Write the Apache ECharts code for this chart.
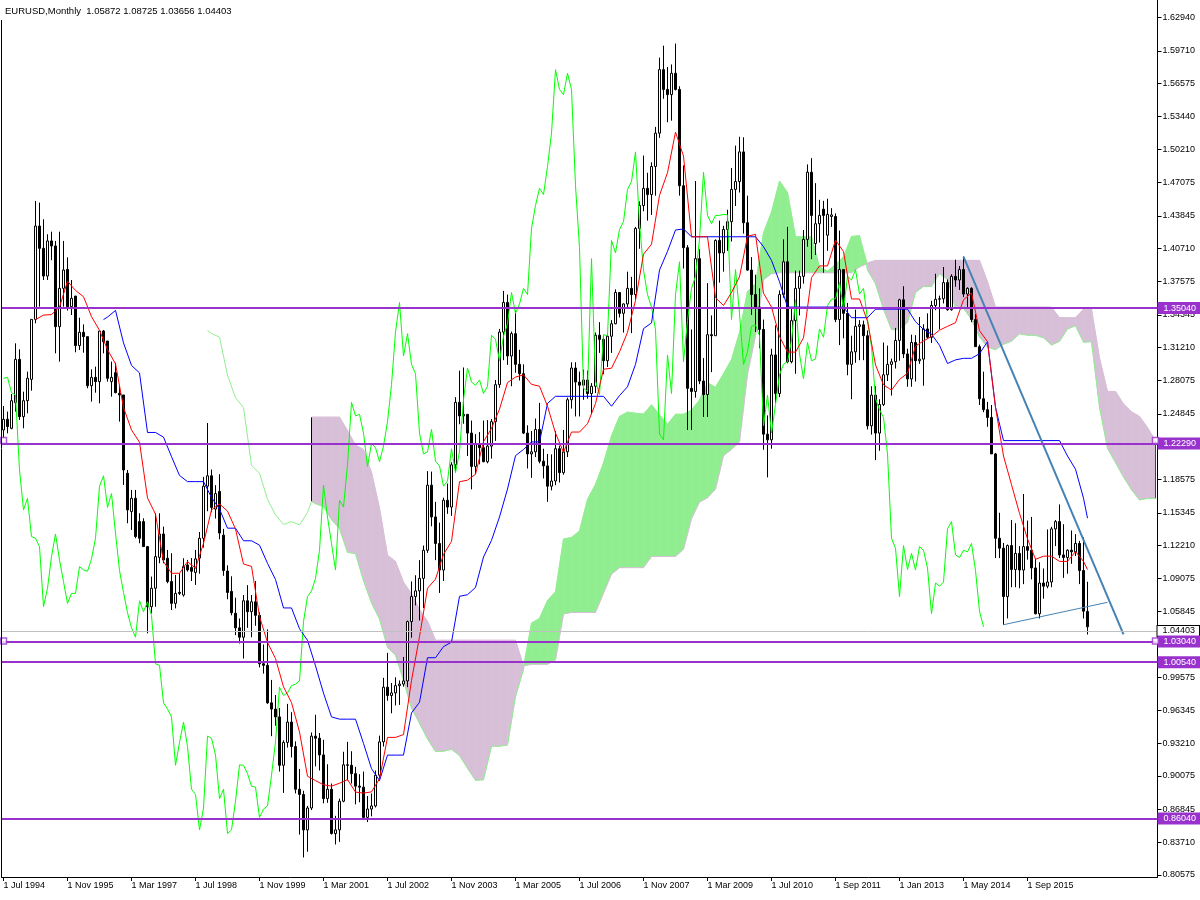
<!DOCTYPE html>
<html><head><meta charset="utf-8">
<script src="https://cdn.jsdelivr.net/npm/echarts@6/dist/echarts.min.js"></script>
<style>html,body{margin:0;padding:0;background:#fff}#c{width:1200px;height:900px}</style>
</head><body><div id="c"></div>
<script>
const symbolName = 'EURUSD';
const periodName = 'Monthly';
const tickLabels = ['1 Jul 1994','1 Nov 1995','1 Mar 1997','1 Jul 1998','1 Nov 1999','1 Mar 2001','1 Jul 2002','1 Nov 2003','1 Mar 2005','1 Jul 2006','1 Nov 2007','1 Mar 2009','1 Jul 2010','1 Sep 2011','1 Jan 2013','1 May 2014','1 Sep 2015'];
const priceTicks = [1.62940,1.59710,1.56575,1.53440,1.50210,1.47075,1.43845,1.40710,1.37575,1.34345,1.31210,1.28075,1.24845,1.21710,1.18575,1.15345,1.12210,1.09075,1.05845,0.99575,0.96345,0.93210,0.90075,0.86845,0.83710,0.80575];
const totalSlots = 289;

const opens = [1.2330,1.2432,1.2346,1.2592,1.3008,1.2458,1.2611,1.2816,1.3392,1.4288,
1.4074,1.3808,1.4145,1.4097,1.3322,1.3690,1.3872,1.3514,1.3616,1.3140,
1.3268,1.3226,1.2755,1.2835,1.2794,1.3280,1.3184,1.2794,1.2880,1.2682,
1.2666,1.1914,1.1546,1.1674,1.1450,1.1450,1.1210,1.0633,1.0810,1.1107,
1.1331,1.1098,1.0874,1.0665,1.0771,1.0745,1.1034,1.1009,1.0962,1.1100,
1.1290,1.1790,1.1890,1.1570,1.1740,1.1320,1.0975,1.0780,1.0570,1.0430,
1.0340,1.0690,1.0585,1.0680,1.0550,1.0085,1.0070,0.9710,0.9650,0.9575,
0.9110,0.9330,0.9525,0.9290,0.8880,0.8830,0.8490,0.8700,0.9390,0.9370,
0.9210,0.8790,0.8880,0.8455,0.8490,0.8765,0.9115,0.9110,0.9030,0.8910,
0.8900,0.8610,0.8690,0.8720,0.9015,0.9335,0.9860,0.9780,0.9805,0.9875,
0.9890,0.9920,1.0490,1.0730,1.0785,1.0905,1.1175,1.1800,1.1495,1.1240,
1.0985,1.1655,1.1590,1.1995,1.2595,1.2465,1.2480,1.2300,1.1980,1.2200,
1.2160,1.2025,1.2175,1.2410,1.2765,1.3270,1.3555,1.3040,1.3255,1.2960,
1.2870,1.2300,1.2100,1.2120,1.2335,1.2030,1.1985,1.1790,1.1840,1.2150,
1.1920,1.2120,1.2620,1.2925,1.2790,1.2760,1.2810,1.2680,1.2750,1.3240,
1.3200,1.2995,1.3230,1.3350,1.3650,1.3450,1.3540,1.3690,1.3630,1.4265,
1.4485,1.4650,1.4590,1.4860,1.5180,1.5790,1.5600,1.5550,1.5755,1.5600,
1.4675,1.4080,1.2730,1.2700,1.3975,1.2800,1.2670,1.3245,1.3235,1.4150,
1.4030,1.4255,1.4330,1.4640,1.4715,1.5000,1.4320,1.3865,1.3630,1.3510,
1.3295,1.2290,1.2235,1.3050,1.2680,1.3630,1.3945,1.2985,1.3380,1.3690,
1.3805,1.4160,1.4805,1.4120,1.4310,1.4450,1.4200,1.4380,1.4380,1.3390,
1.3870,1.3450,1.2960,1.3080,1.3325,1.3340,1.3235,1.2370,1.2665,1.2300,
1.2575,1.2860,1.2960,1.2985,1.3190,1.3580,1.3060,1.2820,1.3170,1.2995,
1.3010,1.3300,1.3220,1.3525,1.3585,1.3590,1.3745,1.3485,1.3805,1.3770,
1.3870,1.3635,1.3690,1.3390,1.3130,1.2630,1.2525,1.2450,1.2100,1.1290,
1.1195,1.0730,1.1220,1.0990,1.1145,1.0985,1.1210,1.1175,1.1005,1.0565,
1.0860,1.0830,1.0870,1.1380,1.1450,1.1130,1.1105,1.1175,1.1160,1.1240,
1.0980,1.05872];
const highs = [1.2560,1.2506,1.2675,1.3162,1.3104,1.2698,1.2890,1.3392,1.4529,1.4513,
1.4353,1.4209,1.4234,1.4145,1.4234,1.4145,1.3988,1.3770,1.3616,1.3408,
1.3344,1.3226,1.2912,1.2938,1.3280,1.3290,1.3184,1.2986,1.2976,1.2762,
1.2666,1.1946,1.1754,1.1754,1.1530,1.1482,1.1210,1.0922,1.1530,1.1530,
1.1402,1.1178,1.1146,1.0938,1.0954,1.1098,1.1082,1.1100,1.1178,1.1350,
1.1880,1.2397,1.1950,1.1800,1.1905,1.1380,1.1030,1.0925,1.0720,1.0520,
1.0745,1.0840,1.0745,1.0880,1.0580,1.0270,1.0415,0.9930,0.9785,0.9660,
0.9350,0.9700,0.9620,0.9340,0.9075,0.8865,0.8720,0.9425,0.9595,0.9420,
0.9355,0.9120,0.8935,0.8625,0.8790,0.9240,0.9335,0.9245,0.9095,0.9025,
0.9050,0.8815,0.8840,0.9060,0.9395,0.9950,1.0190,0.9900,0.9955,0.9925,
1.0150,1.0500,1.0875,1.0935,1.1080,1.1220,1.1935,1.1930,1.1640,1.1440,
1.1680,1.1815,1.2020,1.2645,1.2900,1.2930,1.2480,1.2420,1.2290,1.2310,
1.2420,1.2425,1.2435,1.2810,1.3300,1.3665,1.3630,1.3275,1.3475,1.3100,
1.2960,1.2375,1.2320,1.2440,1.2590,1.2150,1.2100,1.2095,1.2320,1.2180,
1.2330,1.2640,1.2980,1.2980,1.2890,1.2910,1.2900,1.2780,1.3265,1.3365,
1.3235,1.3255,1.3385,1.3680,1.3655,1.3545,1.3850,1.3800,1.4280,1.4525,
1.4965,1.4800,1.4900,1.5240,1.5905,1.6020,1.5815,1.5840,1.6040,1.5630,
1.4870,1.4105,1.3295,1.4720,1.4065,1.3020,1.3740,1.3430,1.4160,1.4340,
1.4290,1.4445,1.4845,1.5060,1.5145,1.5140,1.4580,1.3990,1.3820,1.3690,
1.3390,1.2470,1.3110,1.3335,1.3670,1.4160,1.4280,1.3500,1.3860,1.3860,
1.4250,1.4880,1.4940,1.4700,1.4540,1.4530,1.4550,1.4460,1.4410,1.4245,
1.3870,1.3550,1.3235,1.3485,1.3385,1.3380,1.3285,1.2750,1.2750,1.2625,
1.3170,1.3140,1.3015,1.3310,1.3590,1.3710,1.3110,1.3245,1.3240,1.3415,
1.3345,1.3450,1.3570,1.3830,1.3620,1.3895,1.3775,1.3825,1.3965,1.3905,
1.3995,1.3700,1.3700,1.3445,1.3150,1.2890,1.2600,1.2570,1.2110,1.1535,
1.1245,1.1230,1.1465,1.1435,1.1215,1.1715,1.1460,1.1495,1.1095,1.1060,
1.1000,1.1375,1.1400,1.1465,1.1615,1.1425,1.1185,1.1365,1.1330,1.1265,
1.1300,1.08725];
const lows = [1.2250,1.2298,1.2336,1.2506,1.2426,1.2346,1.2490,1.2707,1.3354,1.3514,
1.3770,1.3770,1.3960,1.3066,1.2986,1.3514,1.3476,1.3434,1.3076,1.3098,
1.3072,1.2730,1.2602,1.2688,1.2586,1.3066,1.2794,1.2650,1.2682,1.2410,
1.1802,1.1434,1.1370,1.1290,1.1242,1.1210,1.0377,1.0569,1.0633,1.1050,
1.1050,1.0858,1.0601,1.0617,1.0745,1.0729,1.0970,1.0880,1.0842,1.0950,
1.1200,1.1550,1.1540,1.1480,1.1280,1.0930,1.0705,1.0550,1.0360,1.0280,
1.0135,1.0430,1.0340,1.0450,1.0050,0.9990,0.9700,0.9390,0.9490,0.9050,
0.8845,0.9280,0.9185,0.8840,0.8445,0.8225,0.8280,0.8680,0.9100,0.9060,
0.8745,0.8750,0.8445,0.8350,0.8375,0.8755,0.8965,0.8935,0.8735,0.8755,
0.8595,0.8565,0.8620,0.8705,0.8975,0.9290,0.9730,0.9610,0.9685,0.9690,
0.9865,0.9860,1.0335,1.0645,1.0500,1.0620,1.1150,1.1405,1.1080,1.0765,
1.0880,1.1525,1.1505,1.1925,1.2385,1.2390,1.2080,1.1760,1.1905,1.2000,
1.2020,1.2010,1.2055,1.2225,1.2735,1.3000,1.2955,1.2750,1.2880,1.2805,
1.2290,1.1960,1.1870,1.2070,1.2010,1.1865,1.1640,1.1750,1.1800,1.1825,
1.1900,1.2070,1.2535,1.2460,1.2460,1.2620,1.2630,1.2480,1.2685,1.3070,
1.2865,1.2935,1.3070,1.3345,1.3410,1.3265,1.3505,1.3260,1.3580,1.4070,
1.4430,1.4340,1.4395,1.4580,1.5135,1.5510,1.5285,1.5300,1.5590,1.4580,
1.3880,1.2330,1.2330,1.2640,1.2770,1.2455,1.2455,1.2885,1.3235,1.3745,
1.3850,1.4050,1.4140,1.4480,1.4610,1.4215,1.3860,1.3435,1.3270,1.3115,
1.2140,1.1875,1.2150,1.2590,1.2645,1.3600,1.2970,1.2970,1.2870,1.3430,
1.3735,1.4090,1.3970,1.4010,1.4130,1.3840,1.4050,1.4280,1.3365,1.3145,
1.3210,1.2855,1.2625,1.2975,1.3000,1.3000,1.2335,1.2285,1.2040,1.2130,
1.2560,1.2800,1.2660,1.2920,1.2995,1.3020,1.2745,1.2745,1.2795,1.2965,
1.2755,1.3205,1.3165,1.3480,1.3295,1.3545,1.3475,1.3475,1.3705,1.3675,
1.3605,1.3500,1.3365,1.3130,1.2570,1.2500,1.2360,1.2100,1.1100,1.1100,
1.0460,1.0520,1.0820,1.0820,1.0810,1.0850,1.1085,1.0895,1.0560,1.0520,
1.0710,1.0810,1.0820,1.1215,1.1100,1.0910,1.0950,1.1045,1.1120,1.0850,
1.0520,1.03656];
const closes = [1.2432,1.2362,1.2611,1.3008,1.2458,1.2611,1.2826,1.3392,1.4288,1.4074,
1.3808,1.4145,1.4097,1.3322,1.3690,1.3866,1.3514,1.3594,1.3140,1.3268,
1.3226,1.2755,1.2835,1.2794,1.3280,1.3178,1.2826,1.2835,1.2688,1.2666,
1.1946,1.1562,1.1674,1.1306,1.1290,1.1210,1.0633,1.0810,1.1114,1.1331,
1.1082,1.0874,1.0665,1.0761,1.0761,1.1018,1.0986,1.0973,1.1092,1.1290,
1.1790,1.1890,1.1586,1.1719,1.1340,1.0980,1.0770,1.0575,1.0430,1.0340,
1.0690,1.0585,1.0680,1.0550,1.0085,1.0070,0.9710,0.9650,0.9575,0.9110,
0.9330,0.9525,0.9290,0.8880,0.8830,0.8490,0.8700,0.9390,0.9370,0.9210,
0.8790,0.8880,0.8455,0.8490,0.8765,0.9115,0.9110,0.9030,0.8910,0.8900,
0.8610,0.8690,0.8720,0.9015,0.9335,0.9860,0.9780,0.9805,0.9875,0.9890,
0.9920,1.0490,1.0730,1.0785,1.0905,1.1175,1.1800,1.1495,1.1240,1.0985,
1.1655,1.1590,1.1995,1.2595,1.2465,1.2480,1.2300,1.1980,1.2200,1.2160,
1.2025,1.2175,1.2410,1.2765,1.3270,1.3555,1.3040,1.3255,1.2960,1.2870,
1.2300,1.2100,1.2120,1.2335,1.2030,1.1985,1.1790,1.1840,1.2150,1.1920,
1.2120,1.2620,1.2925,1.2790,1.2760,1.2810,1.2680,1.2750,1.3240,1.3200,
1.2995,1.3230,1.3350,1.3650,1.3450,1.3540,1.3690,1.3630,1.4265,1.4485,
1.4650,1.4590,1.4860,1.5180,1.5790,1.5600,1.5550,1.5755,1.5600,1.4675,
1.4080,1.2730,1.2700,1.3975,1.2800,1.2670,1.3245,1.3235,1.4150,1.4030,
1.4255,1.4330,1.4640,1.4715,1.5000,1.4320,1.3865,1.3630,1.3510,1.3295,
1.2290,1.2235,1.3050,1.2680,1.3630,1.3945,1.2985,1.3380,1.3690,1.3805,
1.4160,1.4805,1.4390,1.4310,1.4390,1.4390,1.4400,1.4395,1.3390,1.3870,
1.3450,1.2960,1.3080,1.3325,1.3340,1.3235,1.2370,1.2665,1.2300,1.2575,
1.2860,1.2960,1.2985,1.3190,1.3580,1.3060,1.2820,1.3170,1.2995,1.3010,
1.3300,1.3220,1.3525,1.3585,1.3590,1.3745,1.3485,1.3805,1.3770,1.3870,
1.3635,1.3690,1.3390,1.3130,1.2630,1.2525,1.2450,1.2100,1.1290,1.1195,
1.0730,1.1220,1.0990,1.1145,1.0985,1.1210,1.1175,1.1005,1.0565,1.0860,
1.0830,1.0870,1.1380,1.1450,1.1130,1.1105,1.1175,1.1160,1.1240,1.0980,
1.0590,1.04403];

// Ichimoku lines: [bar, price]
const tenkan = [[8,1.3390],[10,1.3433],[12,1.3438],[14,1.3510],[16,1.3758],[18,1.3670],[20,1.3610],[22,1.3418],[24,1.3287],[26,1.3101],[28,1.2965],[30,1.2546],[32,1.2330],[34,1.2213],[36,1.1677],[38,1.1522],[40,1.1066],[42,1.0954],[44,1.0954],[46,1.1066],[48,1.1002],[50,1.1241],[52,1.1563],[54,1.1620],[56,1.1551],[58,1.1379],[60,1.1043],[62,1.1020],[64,1.0540],[66,1.0290],[68,1.0135],[70,0.9863],[72,0.9713],[74,0.9430],[76,0.9005],[78,0.8963],[80,0.8923],[82,0.8910],[84,0.8938],[86,0.8973],[88,0.8853],[90,0.8843],[92,0.8855],[94,0.8980],[96,0.9378],[98,0.9378],[100,0.9405],[102,0.9925],[104,1.0345],[106,1.0810],[108,1.0898],[110,1.1135],[112,1.1260],[114,1.1833],[116,1.1848],[118,1.1905],[120,1.2218],[122,1.2345],[124,1.2530],[126,1.2785],[128,1.2838],[130,1.2860],[132,1.2768],[134,1.2750],[136,1.2558],[138,1.2300],[140,1.2115],[142,1.2310],[144,1.2310],[146,1.2390],[148,1.2583],[150,1.2913],[152,1.2923],[154,1.3080],[156,1.3268],[158,1.3573],[160,1.4018],[162,1.4113],[164,1.4583],[166,1.4800],[168,1.5190],[170,1.4960],[172,1.4185],[174,1.4185],[176,1.4185],[178,1.3600],[180,1.3525],[182,1.3650],[184,1.3800],[186,1.4190],[188,1.4208],[190,1.3643],[192,1.3510],[194,1.3228],[196,1.3078],[198,1.3078],[200,1.3215],[202,1.3793],[204,1.3905],[206,1.3905],[208,1.4153],[210,1.4043],[212,1.3588],[214,1.3588],[216,1.3373],[218,1.2955],[220,1.2763],[222,1.2713],[224,1.2815],[226,1.2875],[228,1.3135],[230,1.3185],[232,1.3228],[234,1.3288],[236,1.3325],[238,1.3360],[240,1.3580],[242,1.3645],[244,1.3283],[246,1.3178],[248,1.2548],[250,1.2080],[252,1.1805],[254,1.1530],[256,1.1285],[258,1.1088],[260,1.1118],[262,1.1118],[264,1.1068],[266,1.1068],[268,1.1163],[270,1.1068],[271,1.0990]];
const kijun = [[25,1.3390],[26,1.3414],[28,1.3478],[30,1.3166],[32,1.2950],[34,1.2878],[36,1.2306],[38,1.2306],[40,1.2261],[42,1.2074],[44,1.1893],[46,1.1834],[48,1.1834],[50,1.1834],[52,1.1682],[54,1.1570],[56,1.1387],[58,1.1387],[60,1.1266],[62,1.1266],[64,1.1224],[66,1.1049],[68,1.0894],[70,1.0621],[72,1.0621],[74,1.0421],[76,1.0311],[78,1.0065],[80,0.9803],[82,0.9575],[84,0.9553],[86,0.9553],[88,0.9553],[90,0.9320],[92,0.9078],[94,0.8963],[96,0.9208],[98,0.9208],[100,0.9208],[102,0.9613],[104,0.9715],[106,1.0143],[108,1.0143],[110,1.0250],[112,1.0293],[114,1.0733],[116,1.0748],[118,1.0818],[120,1.1110],[122,1.1270],[124,1.1495],[126,1.1763],[128,1.2083],[130,1.2143],[132,1.2215],[134,1.2215],[136,1.2585],[138,1.2653],[150,1.2653],[152,1.2558],[154,1.2660],[156,1.2745],[158,1.2960],[160,1.3303],[162,1.3358],[164,1.3865],[166,1.4045],[168,1.4250],[170,1.4260],[172,1.4185],[188,1.4185],[190,1.4090],[192,1.3958],[194,1.3753],[196,1.3510],[208,1.3510],[210,1.3508],[212,1.3408],[216,1.3408],[218,1.3490],[226,1.3490],[228,1.3370],[230,1.3295],[232,1.3250],[234,1.3143],[236,1.2968],[238,1.3003],[240,1.3018],[242,1.3018],[244,1.3063],[246,1.3178],[248,1.2548],[250,1.2228],[264,1.2228],[266,1.2080],[268,1.1953],[270,1.1675],[271,1.1483]];
const spanA = [[51,1.3284],[52,1.3257],[54,1.3221],[56,1.2856],[58,1.2640],[60,1.2545],[62,1.1991],[64,1.1914],[66,1.1664],[68,1.1514],[70,1.1423],[72,1.1450],[74,1.1418],[76,1.1537],[77,1.1644],[78,1.1622],[80,1.1595],[82,1.1469],[84,1.1383],[86,1.1155],[88,1.1143],[90,1.0882],[92,1.0669],[94,1.0514],[96,1.0242],[98,1.0167],[100,0.9926],[102,0.9658],[104,0.9514],[106,0.9363],[108,0.9243],[110,0.9245],[112,0.9263],[114,0.9203],[116,0.9081],[118,0.8966],[120,0.8971],[122,0.9293],[124,0.9293],[126,0.9306],[128,0.9769],[130,1.0030],[132,1.0476],[134,1.0520],[136,1.0693],[138,1.0776],[140,1.1283],[142,1.1298],[144,1.1361],[146,1.1664],[148,1.1808],[150,1.2013],[152,1.2274],[154,1.2460],[156,1.2501],[158,1.2491],[160,1.2483],[162,1.2571],[164,1.2476],[166,1.2384],[168,1.2481],[170,1.2481],[172,1.2521],[174,1.2618],[176,1.2783],[178,1.2740],[180,1.2870],[182,1.3006],[184,1.3266],[186,1.3660],[188,1.3735],[190,1.4224],[192,1.4423],[194,1.4720],[196,1.4610],[198,1.4185],[200,1.4185],[202,1.4185],[204,1.3893],[206,1.3855],[208,1.3918],[210,1.3993],[212,1.4188],[214,1.4196],[216,1.3866],[218,1.3734],[220,1.3490],[222,1.3294],[224,1.3294],[226,1.3363],[228,1.3651],[230,1.3708],[232,1.3708],[234,1.3831],[236,1.3775],[238,1.3498],[240,1.3498],[242,1.3390],[244,1.3223],[246,1.3126],[248,1.3101],[250,1.3153],[252,1.3183],[254,1.3253],[256,1.3240],[258,1.3239],[260,1.3215],[262,1.3146],[264,1.3181],[266,1.3299],[268,1.3331],[270,1.3173],[272,1.3178],[274,1.2548],[276,1.2154],[278,1.2016],[280,1.1879],[282,1.1756],[284,1.1658],[286,1.1673],[288,1.1673]];
const spanB = [[77,1.2453],[78,1.2453],[80,1.2453],[82,1.2453],[84,1.2453],[86,1.2324],[88,1.2185],[90,1.2142],[92,1.1923],[94,1.1580],[96,1.1127],[98,1.1068],[100,1.0868],[102,1.0758],[104,1.0606],[106,1.0494],[108,1.0311],[110,1.0311],[112,1.0311],[114,1.0311],[116,1.0311],[118,1.0311],[120,1.0311],[122,1.0311],[124,1.0311],[126,1.0311],[128,1.0311],[130,1.0065],[132,1.0080],[134,1.0080],[136,1.0080],[138,1.0123],[140,1.0563],[142,1.0578],[144,1.0578],[146,1.0578],[148,1.0578],[150,1.0763],[152,1.0945],[154,1.1008],[156,1.1008],[158,1.1008],[160,1.1008],[162,1.1115],[164,1.1115],[166,1.1115],[168,1.1115],[170,1.1185],[172,1.1478],[174,1.1638],[176,1.1678],[178,1.1763],[180,1.2083],[182,1.2143],[184,1.2215],[186,1.2865],[188,1.3235],[190,1.3773],[192,1.3830],[194,1.3840],[196,1.3840],[198,1.3840],[200,1.3840],[202,1.3840],[204,1.3840],[206,1.3840],[208,1.3840],[210,1.3840],[212,1.3840],[214,1.3895],[216,1.3933],[218,1.3958],[220,1.3958],[222,1.3958],[224,1.3958],[226,1.3958],[228,1.3958],[230,1.3958],[232,1.3958],[234,1.3958],[236,1.3958],[238,1.3958],[240,1.3958],[242,1.3958],[244,1.3958],[246,1.3753],[248,1.3510],[250,1.3510],[252,1.3510],[254,1.3510],[256,1.3510],[258,1.3510],[260,1.3510],[262,1.3508],[264,1.3408],[266,1.3408],[268,1.3408],[270,1.3490],[272,1.3490],[274,1.3020],[276,1.2700],[278,1.2700],[280,1.2580],[282,1.2505],[284,1.2460],[286,1.2353],[288,1.2228]];

const levels = [1.35040, 1.22290, 1.03040, 1.00540, 0.86040];
const handleLevels = [1.22290, 1.03040];
const trendUpper = [[240,1.3995],[280,1.0368]];
const trendLower = [[250,1.0460],[276,1.0675]];
const chikouShift = 26;

const C_TENKAN = '#ff0000', C_KIJUN = '#0000ff', C_CHIKOU = '#00ff00';
const C_UP = '#90ee90', C_DOWN = '#d8bfd8', C_LEVEL = '#9932cc', C_TREND = '#4682b4';
const FONT = 'Liberation Sans, Arial, sans-serif';

const cats = Array.from({length: totalSlots}, (_, i) => String(i));
const candles = opens.map((o, i) => [o, closes[i], lows[i], highs[i]]);
const chikou = closes.slice(chikouShift).map((c, k) => [k, c]);
const aAt = new Map(spanA.map(p => [p[0], p[1]]));
const cloud = spanB.map(p => [p[0], aAt.get(p[0]), p[1]]);
const last = closes.length - 1;

function renderCloud(params, api) {
  const k = params.dataIndex;
  if (k >= cloud.length - 1) return null;
  const [j0, a0, b0] = cloud[k], [j1, a1, b1] = cloud[k + 1];
  const d0 = a0 - b0, d1 = a1 - b1;
  const kids = [];
  const poly = (pts, up) => ({type: 'polygon', shape: {points: pts.map(p => api.coord(p))},
    style: {fill: up ? C_UP : C_DOWN, stroke: up ? C_UP : C_DOWN, lineWidth: 0.6}});
  if (d0 * d1 < 0) {
    const t = d0 / (d0 - d1);
    const jx = j0 + t * (j1 - j0), vx = a0 + t * (a1 - a0);
    kids.push(poly([[j0, a0], [jx, vx], [j0, b0]], d0 > 0));
    kids.push(poly([[jx, vx], [j1, a1], [j1, b1]], d1 > 0));
  } else {
    kids.push(poly([[j0, a0], [j1, a1], [j1, b1], [j0, b0]], (d0 + d1) > 0));
  }
  const edge = (j, a, b, col) => {
    const p1 = api.coord([j, a]), p2 = api.coord([j, b]);
    return {type: 'line', shape: {x1: Math.floor(p1[0]) + 0.5, y1: p1[1], x2: Math.floor(p2[0]) + 0.5, y2: p2[1]}, style: {stroke: col, lineWidth: 1}, z2: 5};
  };
  if (k === 0) kids.push(edge(j0, a0, b0, '#000'));
  if (k === cloud.length - 2) kids.push(edge(j1, a1, b1, '#404040'));
  return {type: 'group', children: kids};
}

const levelLines = levels.map(v => ({yAxis: v, lineStyle: {color: C_LEVEL, width: 2, type: 'solid'},
  label: {show: true, position: 'end', distance: 0, formatter: () => v.toFixed(5), color: '#fff',
    backgroundColor: C_LEVEL, padding: [2, 5, 1, 6], fontSize: 9, fontFamily: FONT}}));
const bidLine = {yAxis: closes[last], lineStyle: {color: '#c0c0c0', width: 1, type: 'solid'},
  label: {show: true, position: 'end', distance: 0, formatter: () => closes[last].toFixed(5), color: '#000',
    backgroundColor: '#fff', borderColor: '#000', borderWidth: 1, padding: [1, 4, 0, 5], fontSize: 9, fontFamily: FONT}};

const handles = [];
handleLevels.forEach(v => { handles.push([0, v]); handles.push([totalSlots - 1, v]); });

const chart = echarts.init(document.getElementById('c'), null, {renderer: 'canvas'});
chart.setOption({
  animation: false,
  backgroundColor: '#fff',
  graphic: [
    {type: 'line', z: 90, shape: {x1: 1.5, y1: 20, x2: 1.5, y2: 877}, style: {stroke: '#000', lineWidth: 1}},
    {type: 'text', left: 5, top: 6, z: 100,
      style: {text: symbolName + ',' + periodName + '  ' + [opens[last], highs[last], lows[last], closes[last]].map(v => v.toFixed(5)).join(' '),
        fill: '#000', font: '9.5px ' + FONT}}],
  grid: {left: 1.5, right: 42.5, top: 0, bottom: 23, show: false},
  xAxis: {type: 'category', data: cats, boundaryGap: true,
    axisLine: {show: true, lineStyle: {color: '#000', width: 1}},
    axisTick: {show: true, alignWithLabel: true, length: 4, interval: (i) => i % 16 === 0 && i / 16 < tickLabels.length, lineStyle: {color: '#000'}},
    axisLabel: {show: true, interval: (i) => i % 16 === 0 && i / 16 < tickLabels.length, align: 'left', margin: 4, color: '#000', fontSize: 9, fontFamily: FONT,
      formatter: (val, idx) => tickLabels[idx / 16] || ''},
    splitLine: {show: false}},
  yAxis: {type: 'value', position: 'right', min: 0.80375, max: 1.64586, scale: true,
    axisLine: {show: true, lineStyle: {color: '#000', width: 1}},
    axisTick: {show: true, length: 4, customValues: priceTicks, lineStyle: {color: '#000'}},
    axisLabel: {show: true, customValues: priceTicks, margin: 5, color: '#000', fontSize: 9, fontFamily: FONT, formatter: v => v.toFixed(5)},
    splitLine: {show: false}},
  series: [
    {type: 'custom', name: 'cloud', renderItem: renderCloud, data: cloud, encode: {x: 0, y: [1, 2]}, z: 1, silent: true, clip: true},
    {type: 'line', name: 'Senkou A', data: spanA, symbol: 'none', lineStyle: {color: C_UP, width: 1}, z: 2, silent: true},
    {type: 'line', name: 'Senkou B', data: spanB, symbol: 'none', lineStyle: {color: C_DOWN, width: 1}, z: 2, silent: true},
    {type: 'candlestick', name: symbolName, data: candles, barWidth: 2, z: 3, silent: true,
      itemStyle: {color: '#fff', color0: '#000', borderColor: '#000', borderColor0: '#000', borderWidth: 1}},
    {type: 'line', name: 'Chikou', data: chikou, symbol: 'none', lineStyle: {color: C_CHIKOU, width: 1}, z: 4, silent: true},
    {type: 'line', name: 'Kijun', data: kijun, symbol: 'none', lineStyle: {color: C_KIJUN, width: 1}, z: 4, silent: true},
    {type: 'line', name: 'Tenkan', data: tenkan, symbol: 'none', lineStyle: {color: C_TENKAN, width: 1}, z: 4, silent: true},
    {type: 'line', name: 'Trend 1', data: trendUpper, symbol: 'none', lineStyle: {color: C_TREND, width: 2}, z: 5, silent: true},
    {type: 'line', name: 'Trend 2', data: trendLower, symbol: 'none', lineStyle: {color: C_TREND, width: 1}, z: 5, silent: true},
    {type: 'line', name: 'levels', data: [], z: 10, silent: true,
      markLine: {silent: true, z: 10, symbol: ['none', 'none'], animation: false, data: [bidLine].concat(levelLines)}},
    {type: 'scatter', name: 'handles', data: handles, symbol: 'rect', symbolSize: 6, z: 11, silent: true,
      itemStyle: {color: '#fff', borderColor: C_LEVEL, borderWidth: 1.5}}
  ]
});
</script></body></html>
